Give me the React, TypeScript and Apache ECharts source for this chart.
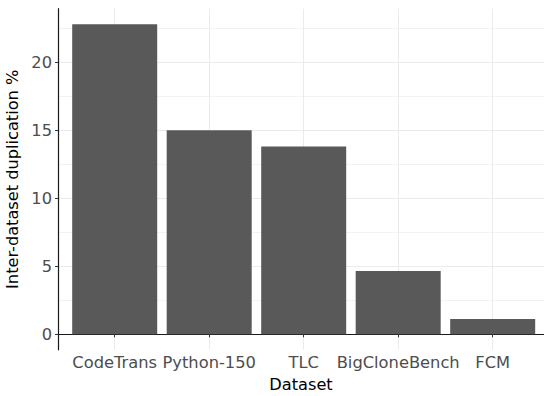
import React, { useEffect, useRef } from "react";
import * as echarts from "echarts";

const categories = ["CodeTrans", "Python-150", "TLC", "BigCloneBench", "FCM"];
const values = [22.8, 15.0, 13.8, 4.65, 1.12];
const yMajorTicks = [0, 5, 10, 15, 20];
const yMinorTicks = [2.5, 7.5, 12.5, 17.5, 22.5];

export default function App() {
  const ref = useRef<HTMLDivElement>(null);
  useEffect(() => {
    if (!ref.current) return;
    const chart = echarts.init(ref.current, undefined, { renderer: "svg" });
    const positions = categories.map((_, i) => i + 1);
    const font = "DejaVu Sans";
    chart.setOption({
      animation: false,
      grid: { left: 58, right: 0, top: 8.7, bottom: 46.2, containLabel: false, outerBoundsMode: "none" },
      xAxis: {
        type: "value",
        min: 0.4,
        max: 5.543,
        name: "Dataset",
        nameLocation: "middle",
        nameGap: 27,
        nameTextStyle: { color: "#000", fontSize: 16.2, fontFamily: font, verticalAlign: "top" },
        axisLine: { show: true, lineStyle: { color: "#1a1a1a", width: 1.2 } },
        axisTick: { show: true, length: 3, customValues: positions, lineStyle: { color: "#333" } },
        axisLabel: {
          customValues: positions,
          margin: 5,
          color: "#4d4d4d",
          fontSize: 16.3,
          fontFamily: font,
          formatter: (v: number) => categories[Math.round(v) - 1] ?? "",
        },
        splitLine: { show: true, lineStyle: { color: "#ebebeb", width: 1 } },
      },
      yAxis: [
        {
          type: "value",
          min: -1.14,
          max: 23.94,
          name: "Inter-dataset duplication %",
          nameLocation: "middle",
          nameGap: 29,
          nameRotate: 90,
          nameTextStyle: { color: "#000", fontSize: 16.2, fontFamily: font },
          axisLine: { show: true, lineStyle: { color: "#1a1a1a", width: 1.2 } },
          axisTick: { show: true, length: 3, customValues: yMajorTicks, lineStyle: { color: "#333" } },
          axisLabel: { customValues: yMajorTicks, margin: 6, color: "#4d4d4d", fontSize: 16.3, fontFamily: font },
          splitLine: { show: true, lineStyle: { color: "#ebebeb", width: 1 } },
        },
        {
          type: "value",
          min: -1.14,
          max: 23.94,
          position: "left",
          axisLine: { show: false },
          axisTick: { show: false, customValues: yMinorTicks },
          axisLabel: { show: false, customValues: yMinorTicks },
          splitLine: { show: true, lineStyle: { color: "#f3f3f3", width: 1 } },
        },
      ],
      series: [
        {
          type: "bar",
          yAxisIndex: 0,
          barWidth: 85,
          itemStyle: { color: "#595959" },
          data: values.map((v, i) => [positions[i], v]),
          z: 3,
        },
      ],
    });
    return () => chart.dispose();
  }, []);
  return <div ref={ref} style={{ width: 544, height: 396, position: "absolute", left: 0, top: 0 }} />;
}
